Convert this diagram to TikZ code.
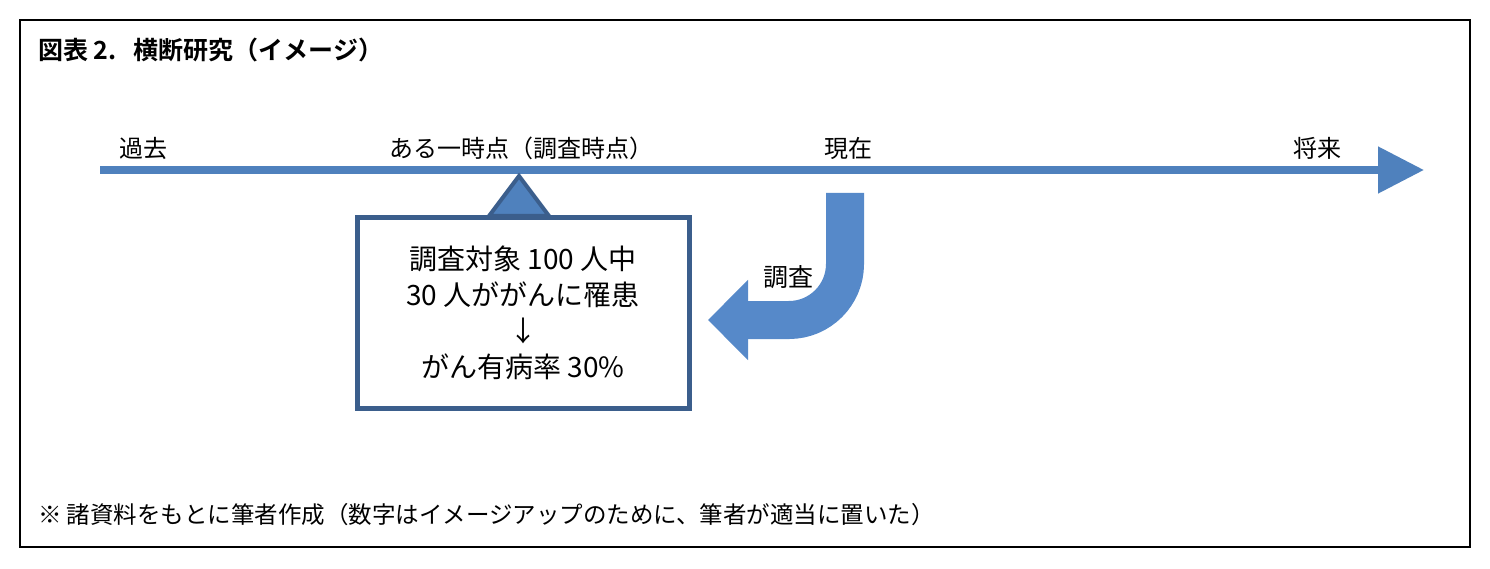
\documentclass[tikz,border=0pt]{standalone}
\usepackage{fontspec}
\setmainfont{Noto Sans CJK JP}[BoldFont={Noto Sans CJK JP Bold}]
\usetikzlibrary{arrows.meta}
\definecolor{axisblue}{RGB}{79,129,189}
\definecolor{boxblue}{RGB}{59,94,140}
\definecolor{bendblue}{RGB}{86,137,201}
\tikzset{
  timelabel/.style={font=\fontsize{24}{28}\selectfont, inner sep=0pt},
  notebox/.style={draw=boxblue, line width=5pt, fill=white, minimum width=332pt,
    minimum height=190pt, align=center, font=\fontsize{28}{36}\selectfont}
}
\begin{document}
\begin{tikzpicture}[x=1pt, y=-1pt]
  \fill[white] (0,0) rectangle (1490,569);
  \draw[line width=2pt] (20,20) rectangle (1470,547);
  \node[anchor=west, inner sep=0pt, font=\bfseries\fontsize{25}{30}\selectfont] (title) at (38,50) {図表 2.\ \ \ 横断研究（イメージ）};
  % time axis
  \coordinate (past) at (100,170);
  \coordinate (future) at (1424,170);
  \draw[axisblue, line width=8pt, -{Triangle[length=46pt, width=45pt]}] (past) -- (future);
  \node[timelabel] (kako) at (143,148) {過去};
  \node[timelabel] (jiten) at (521,148) {ある一時点（調査時点）};
  \node[timelabel] (genzai) at (848,148) {現在};
  \node[timelabel] (shorai) at (1317,148) {将来};
  % marker and result box
  \coordinate (mark) at (519,176);
  \draw[boxblue, fill=axisblue, line width=4pt, line join=miter] (mark) -- (549,216) -- (489,216) -- cycle;
  \node[notebox] (result) at (523,313) {調査対象 100 人中\\30 人ががんに罹患\\↓\\がん有病率 30\%};
  % survey arrow
  \coordinate (now) at (845,193);
  \coordinate (tip) at (708,320);
  \draw[bendblue, line width=38pt, rounded corners=56pt, -{Triangle[length=40pt, width=78pt]}] (now) -- (845,320) -- (tip);
  \node[timelabel, font=\fontsize{25}{28}\selectfont] (chosa) at (788,277) {調査};
  \node[anchor=west, inner sep=0pt, font=\fontsize{23.5}{28}\selectfont] (note) at (38,515) {※ 諸資料をもとに筆者作成（数字はイメージアップのために、筆者が適当に置いた）};
\end{tikzpicture}
\end{document}
